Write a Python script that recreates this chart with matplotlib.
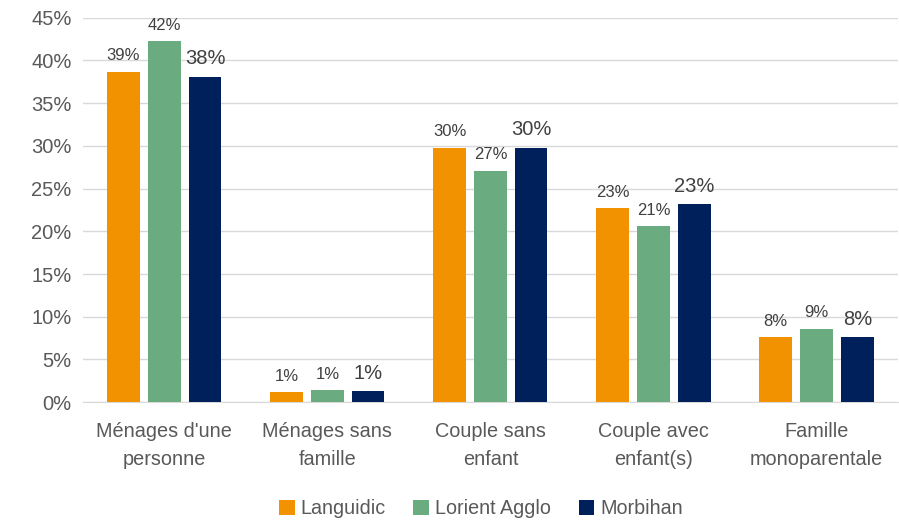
import matplotlib.pyplot as plt
import numpy as np

plt.rcParams['font.family'] = ['Liberation Sans', 'DejaVu Sans']

# Catégories et valeurs (%)
categories = ["Ménages d'une\npersonne", "Ménages sans\nfamille", "Couple sans\nenfant",
              "Couple avec\nenfant(s)", "Famille\nmonoparentale"]
languidic = [38.7, 1.2, 29.8, 22.7, 7.6]
lorient = [42.3, 1.4, 27.1, 20.6, 8.6]
morbihan = [38.1, 1.3, 29.8, 23.2, 7.6]
series_names = ["Languidic", "Lorient Agglo", "Morbihan"]
colors = ["#F39200", "#6AAB7F", "#00205B"]

fig = plt.figure(figsize=(8.99, 5.23), dpi=100)
ax = fig.add_axes([0.092, 0.231, 0.907, 0.735])

x = np.arange(len(categories))
w = 0.2
step = 0.25
grey = "#595959"
for i, (vals, name, col) in enumerate(zip([languidic, lorient, morbihan], series_names, colors)):
    pos = x + (i - 1) * step
    bars = ax.bar(pos, vals, width=w, color=col, label=name, zorder=3)
    size = 14.5 if i == 2 else 12
    for b, v in zip(bars, vals):
        ax.annotate(f"{v:.0f}%", (b.get_x() + b.get_width() / 2, v),
                    xytext=(0, 6), textcoords="offset points",
                    ha="center", va="bottom", fontsize=size, color="#404040")

ax.set_ylim(0, 45)
ax.set_xlim(-0.5, len(categories) - 0.5)
ax.set_yticks(np.arange(0, 46, 5))
ax.set_yticklabels([f"{t}%" for t in range(0, 46, 5)])
ax.set_xticks(x)
ax.set_xticklabels(categories, linespacing=1.6)
ax.tick_params(axis="y", length=0, labelsize=14.5, colors=grey, pad=8)
ax.tick_params(axis="x", length=0, labelsize=14.3, colors=grey, pad=14)
ax.grid(axis="y", color="#D9D9D9", linewidth=1, zorder=0)
for s in ["top", "right", "left"]:
    ax.spines[s].set_visible(False)
ax.spines["bottom"].set_color("#D9D9D9")

leg = fig.legend(loc="center", bbox_to_anchor=(0.535, 0.027), ncol=3, frameon=False,
                 fontsize=14.2, handlelength=0.8, handleheight=0.8, handletextpad=0.3,
                 columnspacing=1.4)
for t in leg.get_texts():
    t.set_color(grey)

fig.savefig("out.png", dpi=100)
